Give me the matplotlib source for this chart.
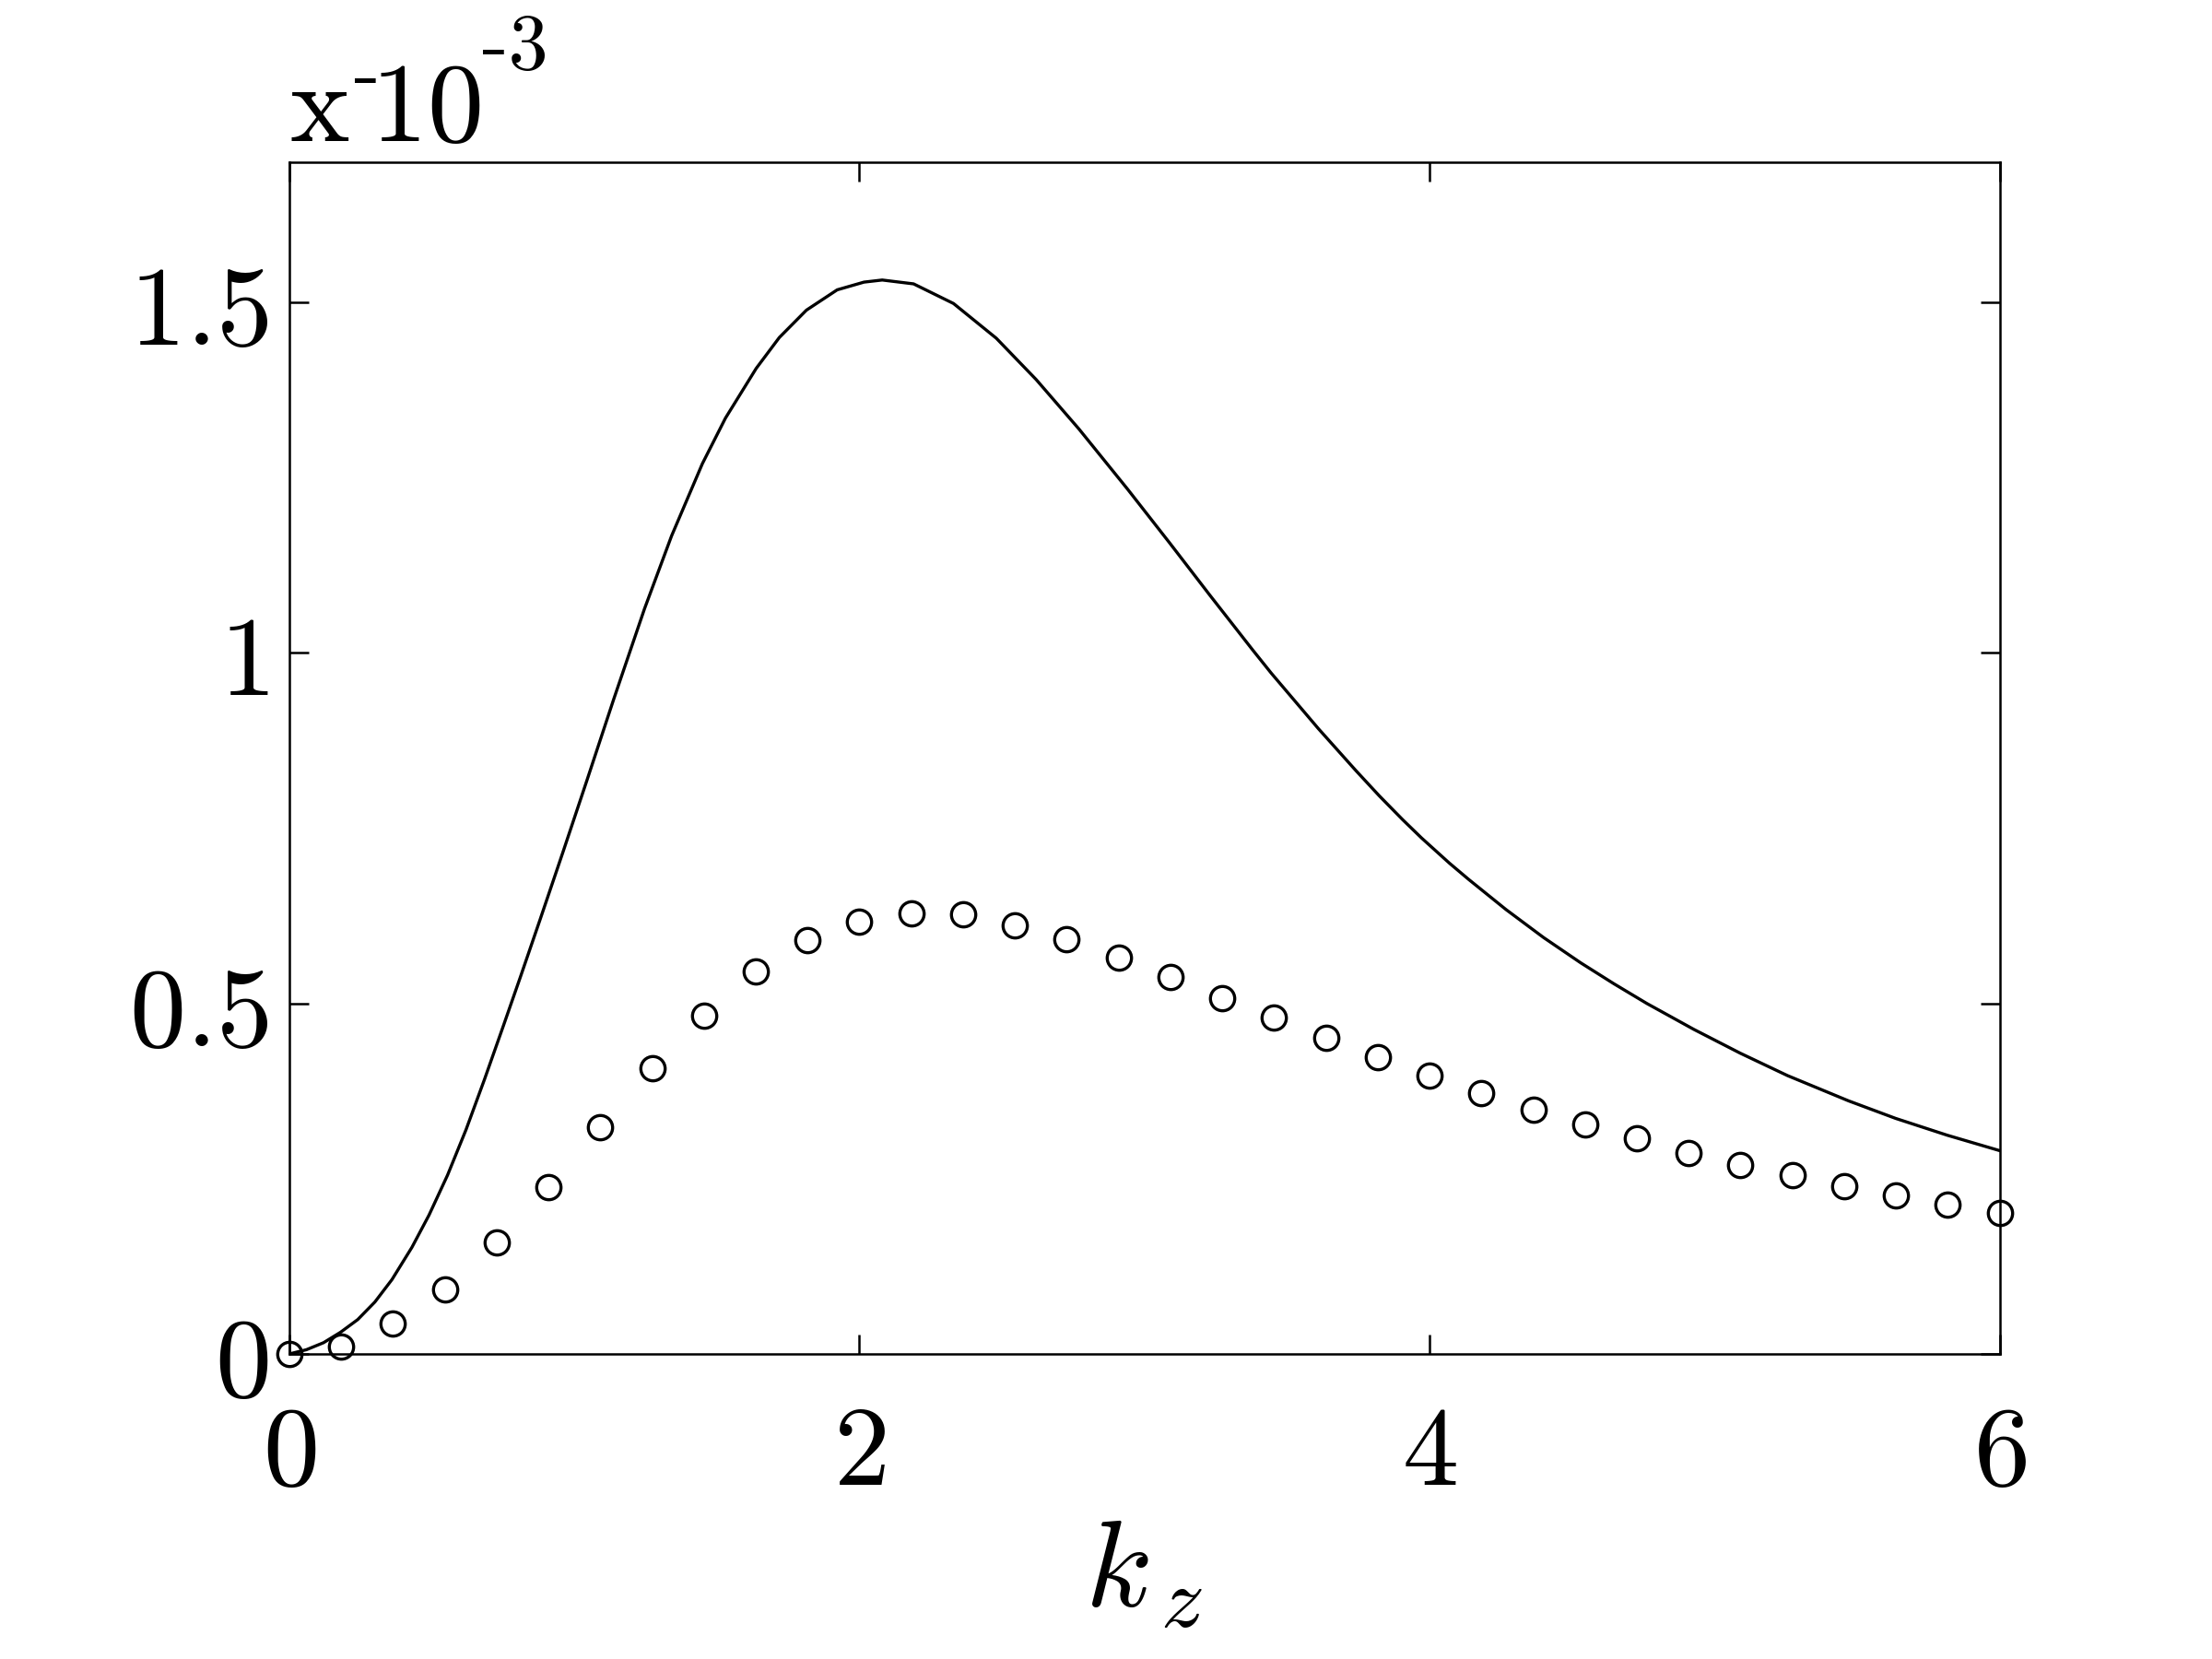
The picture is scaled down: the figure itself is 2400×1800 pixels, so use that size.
import matplotlib
matplotlib.use("Agg")
import matplotlib.pyplot as plt
import numpy as np

plt.rcParams['mathtext.fontset'] = 'cm'
plt.rcParams['axes.unicode_minus'] = False

# solid curve (values in units of 1e-3)
line_kz = [0, 0.06, 0.12, 0.18, 0.24, 0.30, 0.36, 0.43, 0.49, 0.555, 0.62,
           0.685, 0.75, 0.81, 0.88, 0.96, 1.043, 1.138, 1.246, 1.341, 1.449,
           1.53, 1.638, 1.719, 1.814, 1.922, 2.016, 2.08, 2.19, 2.33, 2.48,
           2.62, 2.77, 2.94, 3.09, 3.23, 3.38, 3.445, 3.61, 3.742, 3.824,
           3.906, 3.972, 4.07, 4.137, 4.268, 4.40, 4.53, 4.647, 4.762, 4.927,
           5.09, 5.256, 5.47, 5.635, 5.816, 6.0]
line_val = [0, 0.006, 0.016, 0.031, 0.049, 0.074, 0.106, 0.152, 0.198, 0.255,
            0.320, 0.392, 0.467, 0.537, 0.620, 0.716, 0.817, 0.934, 1.063,
            1.167, 1.270, 1.335, 1.406, 1.450, 1.489, 1.518, 1.529, 1.532,
            1.5265, 1.4985, 1.449, 1.390, 1.3195, 1.234, 1.156, 1.082, 1.004,
            0.971, 0.892, 0.832, 0.796, 0.762, 0.736, 0.700, 0.677, 0.634,
            0.594, 0.558, 0.528, 0.500, 0.463, 0.429, 0.397, 0.361, 0.336,
            0.312, 0.290]

# circles, 34 points evenly spaced on [0, 6]
circ_kz = np.linspace(0, 6, 34)
circ_val = [0, 0.011, 0.043, 0.092, 0.159, 0.238, 0.323, 0.407, 0.483, 0.545,
            0.590, 0.617, 0.629, 0.627, 0.612, 0.592, 0.566, 0.538, 0.508, 0.480,
            0.451, 0.423, 0.397, 0.372, 0.349, 0.328, 0.308, 0.287, 0.270, 0.255,
            0.239, 0.226, 0.213, 0.201]

xticks = [0, 2, 4, 6]
yticks = [0, 0.5, 1, 1.5]

fig = plt.figure(figsize=(12, 9), dpi=200)
ax = fig.add_axes([0.1308, 0.1839, 0.904 - 0.1308, 0.9022 - 0.1839])

ax.plot(line_kz, line_val, color='k', lw=1.2)
ax.plot(circ_kz, circ_val, 'o', mfc='none', mec='k', ms=9.5, mew=1.2,
        clip_on=False)

ax.set_xlim(0, 6)
ax.set_ylim(0, 1.7)
ax.set_xticks(xticks)
ax.set_yticks(yticks)
ax.set_xticklabels([r'$%g$' % t for t in xticks])
ax.set_yticklabels([r'$%g$' % t for t in yticks])
ax.tick_params(direction='in', length=7.5, width=0.9, top=True, right=True,
               labelsize=44)
ax.tick_params(axis='x', pad=18)
ax.tick_params(axis='y', pad=8)
for s in ax.spines.values():
    s.set_linewidth(0.9)

ax.set_xlabel(r'$k_{\,z}$', fontsize=48, labelpad=2)

# scale factor in the top left corner; the exponent sits high, after "10"
base = ax.text(0, 1.018, r'$\mathrm{x}^{\text{-}}\!\mathrm{10}$',
               transform=ax.transAxes, fontsize=44, ha='left', va='baseline')
ax.annotate('-3', xy=(1, 1.018), xycoords=(base, ax.transAxes),
            xytext=(0.5, 28), textcoords='offset points', fontfamily='cmr10',
            fontsize=31, ha='left', va='baseline')

fig.savefig('out.png', dpi=200)
